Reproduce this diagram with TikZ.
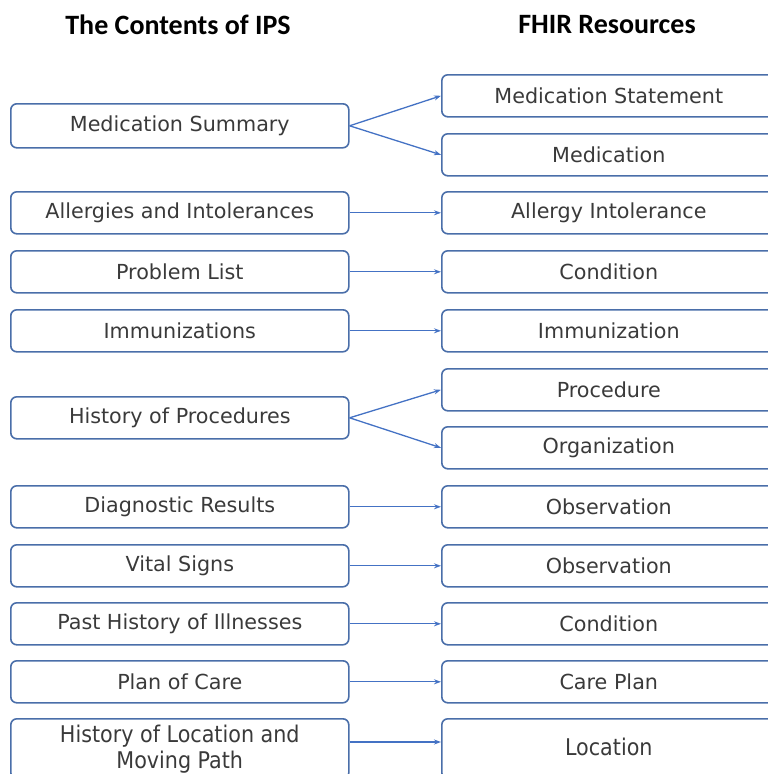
\documentclass[tikz,border=0pt]{standalone}
\usepackage{fontspec}
\setmainfont{DejaVu Sans}
\newfontfamily\headfont{Carlito}
\newfontfamily\narrowfont{DejaVu Sans Condensed}
\usetikzlibrary{arrows.meta}
\definecolor{boxline}{HTML}{4A6EA9}
\definecolor{arrowline}{HTML}{4472C4}
\definecolor{labeltext}{HTML}{3A3A3A}
\begin{document}
\begin{tikzpicture}[x=1pt,y=-1pt,
  item/.style={draw=boxline, line width=1.6pt, rounded corners=6pt, text=labeltext,
    font=\fontsize{20.7}{24}\selectfont, inner sep=0pt, anchor=north west},
  lbox/.style={item, minimum width=338pt, minimum height=42pt},
  rbox/.style={item, minimum width=334pt, minimum height=42pt},
  narrow/.style={font=\narrowfont\fontsize{23}{26}\selectfont},
  head/.style={font=\headfont\bfseries\fontsize{28}{32}\selectfont},
  link/.style={draw=arrowline, line width=1.3pt, -{Stealth[length=7pt,width=5pt]}}]
\useasboundingbox (0,0) rectangle (768,774);
\begin{scope}
\clip (0,0) rectangle (768,774);
% column headings
\node[head] (h1) at (178,25) {The Contents of IPS};
\node[head] (h2) at (607,25) {FHIR Resources};
% IPS sections
\node[lbox, minimum height=44pt] (l1) at (10,103) {Medication Summary};
\node[lbox] (l2) at (10,191) {Allergies and Intolerances};
\node[lbox] (l3) at (10,250) {Problem List};
\node[lbox] (l4) at (10,309) {Immunizations};
\node[lbox] (l5) at (10,396) {History of Procedures};
\node[lbox] (l6) at (10,485) {Diagnostic Results};
\node[lbox] (l7) at (10,544) {Vital Signs};
\node[lbox] (l8) at (10,602) {Past History of Illnesses};
\node[lbox] (l9) at (10,660) {Plan of Care};
\node[lbox, narrow, minimum height=60pt, align=center] (l10) at (10,718) {History of Location and\\Moving Path};
% FHIR resources
\node[rbox] (r1) at (441,74) {Medication Statement};
\node[rbox] (r2) at (441,133) {Medication};
\node[rbox] (r3) at (441,191) {Allergy Intolerance};
\node[rbox] (r4) at (441,250) {Condition};
\node[rbox] (r5) at (441,309) {Immunization};
\node[rbox] (r6) at (441,368) {Procedure};
\node[rbox] (r7) at (441,426) {Organization};
\node[rbox] (r8) at (441,485) {Observation};
\node[rbox] (r9) at (441,544) {Observation};
\node[rbox] (r10) at (441,602) {Condition};
\node[rbox] (r11) at (441,660) {Care Plan};
\node[rbox, narrow, minimum height=60pt] (r12) at (441,718) {\raisebox{5pt}{Location}};
% mappings
\draw[link] (l1.east) -- (r1.west);
\draw[link] (l1.east) -- (r2.west);
\draw[link] (l2.east) -- (r3.west);
\draw[link] (l3.east) -- (r4.west);
\draw[link] (l4.east) -- (r5.west);
\draw[link] (l5.east) -- (r6.west);
\draw[link] (l5.east) -- (r7.west);
\draw[link] (l6.east) -- (r8.west);
\draw[link] (l7.east) -- (r9.west);
\draw[link] (l8.east) -- (r10.west);
\draw[link] (l9.east) -- (r11.west);
\draw[link] ([yshift=-24pt]l10.north east) -- ([yshift=-24pt]r12.north west);
\end{scope}
\end{tikzpicture}
\end{document}
